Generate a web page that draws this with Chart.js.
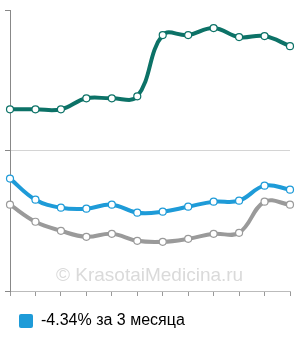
<!DOCTYPE html>
<html>
<head>
<meta charset="utf-8">
<script src="https://cdn.jsdelivr.net/npm/chart.js@4"></script>
<style>
  html, body { margin: 0; padding: 0; background: #fff; }
  #wrap { width: 300px; height: 340px; position: relative; }
</style>
</head>
<body>
<div id="wrap"><canvas id="grafica"></canvas></div>
<script>
// Datos (unidades relativas, eje 0..280)
const etiquetas = ['1', '2', '3', '4', '5', '6', '7', '8', '9', '10', '11', '12'];
const serieVerde = [181, 181, 181, 192, 192, 194, 255, 255, 262, 253, 254, 244];
const serieAzul = [112, 91, 83, 82, 86, 78, 79, 84, 89, 90, 105, 101];
const serieGris = [86, 69, 60, 54, 57, 50, 49, 52, 57, 58, 89, 86];
const textoLeyenda = '-4.34% за 3 месяца';
const marcaAgua = '© KrasotaiMedicina.ru';

// Marca de agua + leyenda un poco más a la izquierda
const pluginMarca = {
    id: 'marca',
    afterLayout(chart) {
        if (chart.legend) chart.legend.left -= 3;
    },
    beforeDatasetsDraw(chart) {
        const ctx = chart.ctx;
        ctx.save();
        ctx.font = '19px "Liberation Sans", Arial, sans-serif';
        ctx.fillStyle = '#dadada';
        ctx.textBaseline = 'alphabetic';
        ctx.fillText(marcaAgua, 56, 281);
        ctx.restore();
    }
};

function serie(datos, color, etiqueta) {
    return {
        label: etiqueta,
        data: datos,
        borderColor: color,
        backgroundColor: color,
        borderWidth: 4,
        tension: 0.4,
        pointRadius: 3.5,
        pointBorderWidth: 1.2,
        pointBorderColor: color,
        pointBackgroundColor: '#fff',
        clip: false,
        fill: false
    };
}

new Chart(document.getElementById('grafica'), {
    type: 'line',
    data: {
        labels: etiquetas,
        datasets: [
            serie(serieVerde, '#0c7267', 'verde'),
            serie(serieAzul, '#1e9bd8', textoLeyenda),
            serie(serieGris, '#9a9a9a', 'gris')
        ]
    },
    options: {
        responsive: true,
        maintainAspectRatio: false,
        animation: false,
        layout: { padding: { left: 5, right: 10, top: 10, bottom: 1 } },
        plugins: {
            tooltip: { enabled: false },
            legend: {
                display: true,
                position: 'bottom',
                align: 'start',
                labels: {
                    filter: (item) => item.datasetIndex === 1,
                    boxWidth: 14,
                    boxHeight: 14,
                    padding: 17,
                    color: '#333',
                    font: { family: '"Liberation Sans", Arial, sans-serif', size: 16 },
                    generateLabels: (chart) => [{
                        text: textoLeyenda,
                        fillStyle: '#1e9bd8',
                        strokeStyle: '#1e9bd8',
                        lineWidth: 0,
                        borderRadius: 2,
                        datasetIndex: 1
                    }]
                }
            }
        },
        scales: {
            x: {
                offset: false,
                ticks: { display: false },
                grid: { drawOnChartArea: false, tickLength: 5, tickColor: '#999' },
                border: { color: '#bbb' }
            },
            y: {
                min: 0,
                max: 280,
                ticks: { display: false, stepSize: 140 },
                grid: {
                    tickLength: 5,
                    tickColor: '#888',
                    color: (c) => (c.tick && c.tick.value === 140 ? '#d4d4d4' : 'rgba(0,0,0,0)')
                },
                border: { color: '#888' }
            }
        }
    },
    plugins: [pluginMarca]
});
</script>
</body>
</html>
